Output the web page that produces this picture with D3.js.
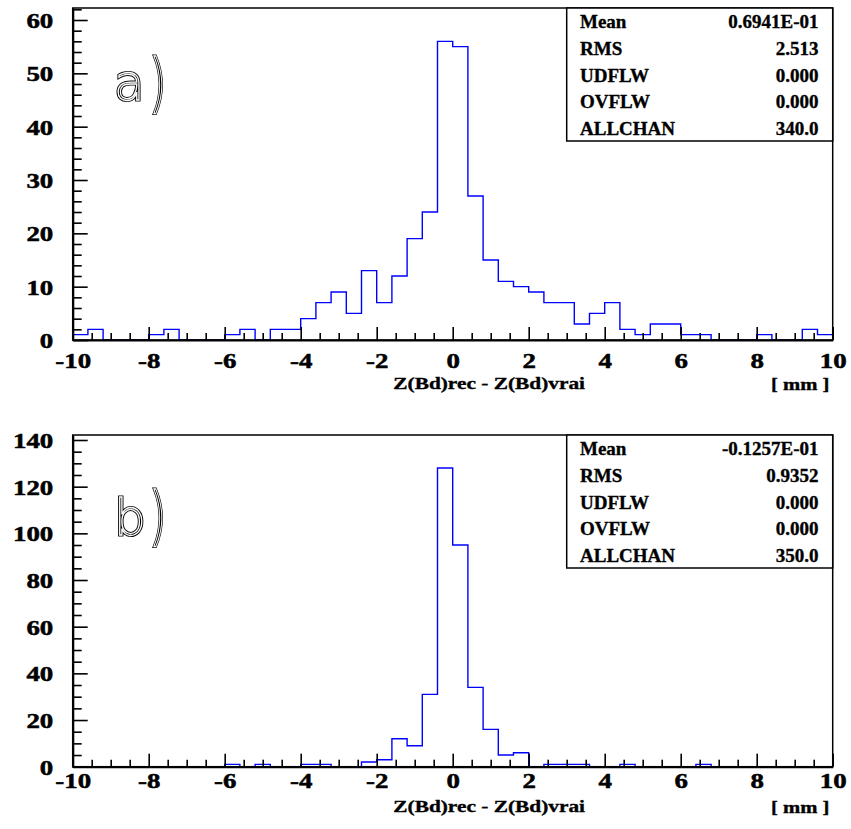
<!DOCTYPE html>
<html><head><meta charset="utf-8">
<script src="https://cdn.jsdelivr.net/npm/d3@7"></script>
<style>
body{margin:0;background:#fff}
svg text{font-family:"Liberation Serif","Times New Roman",Times,serif;font-weight:bold;stroke:#000;stroke-width:0.35px}
svg text.lab{font-family:"DejaVu Sans",sans-serif;font-weight:normal}
</style>
</head><body><svg id="c" width="851" height="829" style="display:block;background:#fff"></svg>
<script>
// ---------- data ----------
const binEdges = [-10,-9.6,-9.2,-8.8,-8.4,-8,-7.6,-7.2,-6.8,-6.4,-6,-5.6,-5.2,-4.8,-4.4,-4,-3.6,-3.2,-2.8,-2.4,-2,-1.6,-1.2,-0.8,-0.4,0,0.4,0.8,1.2,1.6,2,2.4,2.8,3.2,3.6,4,4.4,4.8,5.2,5.6,6,6.4,6.8,7.2,7.6,8,8.4,8.8,9.2,9.6,10];
const countsA = [1,2,0,0,0, 1,2,0,0,0, 1,2,0,2,2, 4,7,9,5,13, 7,12,19,24,56, 55,27,15,11,10, 9,7,7,3,5, 7,2,1,3,3, 1,1,0,0,0, 1,0,0,2,1];
const countsB = [0,0,0,0,0, 0,0,0,0,0, 1,0,1,0,0, 1,1,0,0,2, 3,12,9,31,128, 95,34,16,5,6, 0,1,1,1,0, 0,1,0,0,0, 0,1,0,0,0, 0,0,0,0,0];
const xTicks = [-10,-8,-6,-4,-2,0,2,4,6,8,10];
const xMinorTicks = [-9.5,-9,-8.5,-7.5,-7,-6.5,-5.5,-5,-4.5,-3.5,-3,-2.5,-1.5,-1,-0.5,0.5,1,1.5,2.5,3,3.5,4.5,5,5.5,6.5,7,7.5,8.5,9,9.5];
const yTicksA = [0,10,20,30,40,50,60];
const yMinorA = [2,4,6,8,12,14,16,18,22,24,26,28,32,34,36,38,42,44,46,48,52,54,56,58,62];
const yTicksB = [0,20,40,60,80,100,120,140];
const yMinorB = [5,10,15,25,30,35,45,50,55,65,70,75,85,90,95,105,110,115,125,130,135];
const statLabels = ["Mean","RMS","UDFLW","OVFLW","ALLCHAN"];
const statsA = ["0.6941E-01","2.513","0.000","0.000","340.0"];
const statsB = ["-0.1257E-01","0.9352","0.000","0.000","350.0"];
const xTitle = "Z(Bd)rec - Z(Bd)vrai";
const xUnit = "[ mm ]";

// ---------- layout ----------
const svg = d3.select("#c");
const SX = 1.25;
const L = 72.7, R = 832.7;
const x = d3.scaleLinear().domain([-10, 10]).range([L, R]);
const fmt = d => String(d);

const panels = [
  {counts: countsA, yTicks: yTicksA, yMinor: yMinorA, yMax: 62.25, top: 8, bottom: 340,
   stats: statsA, letter: "a", letterBase: 100, parenBase: 104.7, tickLabY: 28.3, titleY: 388.5},
  {counts: countsB, yTicks: yTicksB, yMinor: yMinorB, yMax: 142.14, top: 435, bottom: 766.7,
   stats: statsB, letter: "b", letterBase: 535, parenBase: 538.4, tickLabY: 21.6, titleY: 811.5}
];

panels.forEach(p => {
  const y = d3.scaleLinear().domain([0, p.yMax]).range([p.bottom, p.top]);
  const g = svg.append("g");

  // histogram
  const pts = p.counts.map((c, i) => [binEdges[i], c]);
  pts.push([binEdges[binEdges.length - 1], p.counts[p.counts.length - 1]]);
  const line = d3.line().x(d => x(d[0])).y(d => y(d[1])).curve(d3.curveStepAfter);
  g.append("path").attr("d", line(pts)).attr("fill", "none")
    .attr("stroke", "#0000ff").attr("stroke-width", 1.4);

  // frame
  g.append("rect").attr("x", L).attr("y", p.top).attr("width", R - L).attr("height", p.bottom - p.top)
    .attr("fill", "none").attr("stroke", "#000").attr("stroke-width", 1.5);

  // x axis minor
  g.append("g").attr("transform", `translate(0,${p.bottom})`)
    .call(d3.axisBottom(x).tickValues(xMinorTicks).tickSize(-7).tickSizeOuter(0).tickFormat(""))
    .call(a => a.select(".domain").remove())
    .selectAll("line").attr("stroke-width", 1.6);
  // x axis major
  const xa = g.append("g").attr("transform", `translate(0,${p.bottom})`)
    .call(d3.axisBottom(x).tickValues(xTicks).tickSize(-13).tickSizeOuter(0).tickFormat(fmt));
  xa.attr("font-family", null).attr("font-size", null);
  xa.select(".domain").attr("stroke-width", 2.2);
  xa.selectAll("line").attr("stroke-width", 1.6);
  xa.selectAll("text").attr("y", p.tickLabY).attr("dy", 0)
    .attr("transform", `scale(${SX},1)`)
    .style("font-size", "21.5px").style("stroke-width", "0.5px").attr("fill", "#000");

  // y axis minor
  g.append("g").attr("transform", `translate(${L},0)`)
    .call(d3.axisLeft(y).tickValues(p.yMinor.filter(v => v <= p.yMax)).tickSize(-9).tickSizeOuter(0).tickFormat(""))
    .call(a => a.select(".domain").remove())
    .selectAll("line").attr("stroke-width", 1.6);
  // y axis major
  const ya = g.append("g").attr("transform", `translate(${L},0)`)
    .call(d3.axisLeft(y).tickValues(p.yTicks).tickSize(-15).tickSizeOuter(0).tickFormat(fmt));
  ya.attr("font-family", null).attr("font-size", null);
  ya.select(".domain").attr("stroke-width", 2.2);
  ya.selectAll("line").attr("stroke-width", 1.6);
  ya.selectAll("text").attr("x", -19.4 / SX).attr("dy", 7.4).attr("y", 0)
    .attr("transform", `scale(${SX},1)`).attr("text-anchor", "end")
    .style("font-size", "21.5px").style("stroke-width", "0.5px").attr("fill", "#000");

  // x title and unit
  g.append("text").attr("transform", `translate(393.3,${p.titleY}) scale(1.22,1)`)
    .style("font-size", "17.5px").text(xTitle);
  g.append("text").attr("transform", `translate(829.5,${p.titleY + 1}) scale(1.18,1)`)
    .attr("text-anchor", "end").style("font-size", "17.5px").text(xUnit);

  // stats box
  const bx = 566.7, bw = R - bx, bh = 133;
  g.append("rect").attr("x", bx).attr("y", p.top).attr("width", bw).attr("height", bh)
    .attr("fill", "#fff").attr("stroke", "#000").attr("stroke-width", 1.5);
  statLabels.forEach((lab, i) => {
    const by = p.top + 20.3 + i * 26.6;
    g.append("text").attr("x", 580).attr("y", by).style("font-size", "19px").text(lab);
    g.append("text").attr("x", 818.5).attr("y", by).attr("text-anchor", "end")
      .style("font-size", "19px").text(p.stats[i]);
  });

  // outlined panel label (double-line look)
  const lab = g.append("g");
  [{w: 3.2, c: "#000"}, {w: 1.3, c: "#fff"}].forEach(s => {
    lab.append("text").attr("class", "lab").attr("x", 114).attr("y", p.letterBase)
      .style("font-size", "50px").style("font-weight", "200")
      .style("fill", "none").style("stroke", s.c).style("stroke-width", s.w + "px").text(p.letter);
    lab.append("text").attr("class", "lab").attr("x", 149).attr("y", p.parenBase)
      .style("font-size", "64px").style("font-weight", "200")
      .attr("transform", `translate(149,${p.parenBase}) scale(0.7,1) translate(-149,${-p.parenBase})`)
      .style("fill", "none").style("stroke", s.c).style("stroke-width", s.w + "px").text(")");
  });
});
</script>
</body></html>
